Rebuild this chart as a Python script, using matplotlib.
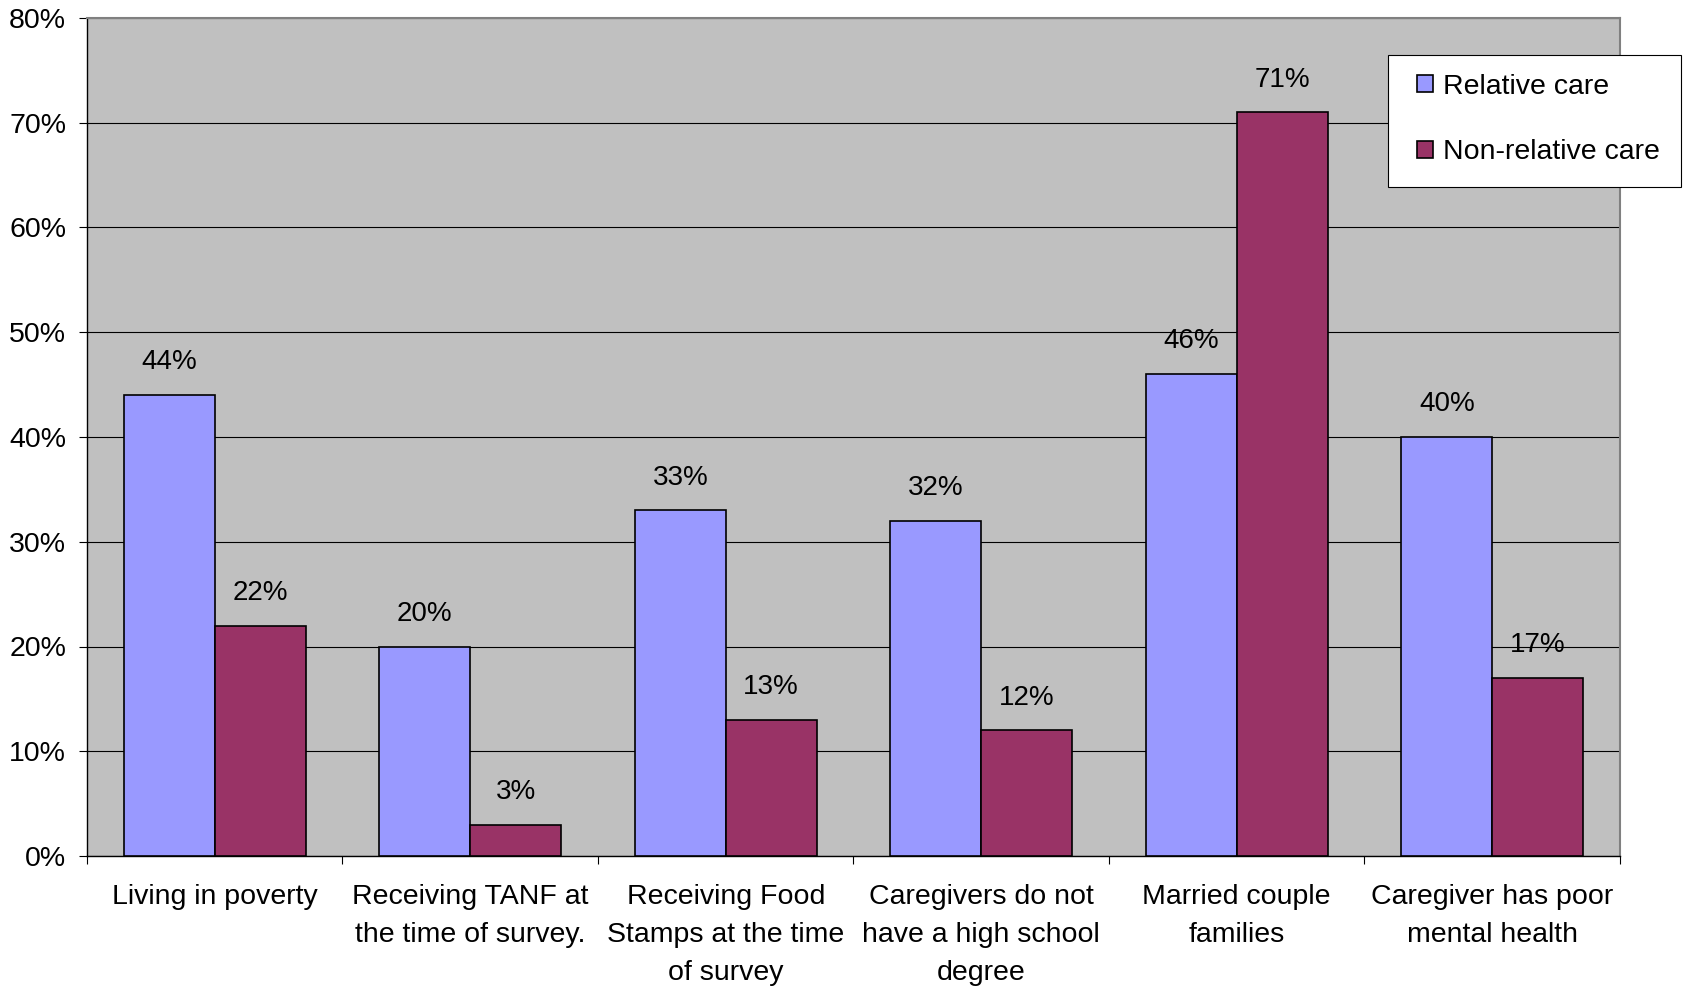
import numpy as np
import matplotlib.pyplot as plt
import matplotlib as mpl
from matplotlib.patches import Rectangle

mpl.rcParams['font.family'] = ['Liberation Sans', 'DejaVu Sans']

# survey outcomes by type of care arrangement
categories = [
    "Living in poverty",
    "Receiving TANF at\nthe time of survey.",
    "Receiving Food\nStamps at the time\nof survey",
    "Caregivers do not\nhave a high school\ndegree",
    "Married couple\nfamilies",
    "Caregiver has poor\nmental health",
]
relative_care = [44, 20, 33, 32, 46, 40]
non_relative_care = [22, 3, 13, 12, 71, 17]
series_names = ["Relative care", "Non-relative care"]
y_ticks = [0, 10, 20, 30, 40, 50, 60, 70, 80]

fig = plt.figure(figsize=(16.9, 9.9), dpi=100)
ax = fig.add_axes([87/1690, 1-856/990, (1620-87)/1690, (856-18)/990])
ax.set_facecolor('#C0C0C0')

x = np.arange(len(categories))
w = 0.356
b1 = ax.bar(x - w/2, relative_care, w, color='#9999FF', edgecolor='black', linewidth=1.2,
            label=series_names[0], zorder=3)
b2 = ax.bar(x + w/2, non_relative_care, w, color='#993366', edgecolor='black', linewidth=1.2,
            label=series_names[1], zorder=3)

for bars, vals in [(b1, relative_care), (b2, non_relative_care)]:
    for rect, v in zip(bars, vals):
        ax.annotate(f"{v}%", (rect.get_x() + rect.get_width()/2, v),
                    xytext=(0, 18.5), textcoords='offset points',
                    ha='center', va='baseline', fontsize=20, zorder=4)

ax.set_xlim(-0.5, len(categories) - 0.5)
ax.set_ylim(0, 80)
ax.set_yticks(y_ticks)
ax.set_yticklabels([f"{t}%" for t in y_ticks])
ax.yaxis.grid(True, color='black', linewidth=0.8, zorder=1)

ax.set_xticks(x)
ax.set_xticklabels(categories, fontsize=20.5, linespacing=1.6)
ax.set_xticks(np.arange(len(categories) + 1) - 0.5, minor=True)
ax.tick_params(axis='x', which='major', length=0, pad=20.5)
ax.tick_params(axis='x', which='minor', length=6, width=0.8, direction='out')
ax.tick_params(axis='y', labelsize=20.5, length=6, width=0.8, pad=9)

for s in ['top', 'right']:
    ax.spines[s].set_color('#808080')
    ax.spines[s].set_linewidth(1.5)
for s in ['left', 'bottom']:
    ax.spines[s].set_color('black')
    ax.spines[s].set_linewidth(1.0)

# legend box drawn separately so its padding can be set freely
fig.patches.append(Rectangle((1388/1690, 1-187/990), 293/1690, 132/990,
                             transform=fig.transFigure, facecolor='white',
                             edgecolor='black', linewidth=0.8, zorder=4))
leg = fig.legend(loc='upper left', bbox_to_anchor=(1417/1690, 1-73.5/990),
                 fontsize=20.5, frameon=False, handlelength=0.56, handleheight=0.56,
                 handletextpad=0.36, labelspacing=1.4, borderpad=0,
                 borderaxespad=0)
leg.set_zorder(5)

fig.savefig("out.png", dpi=100)
